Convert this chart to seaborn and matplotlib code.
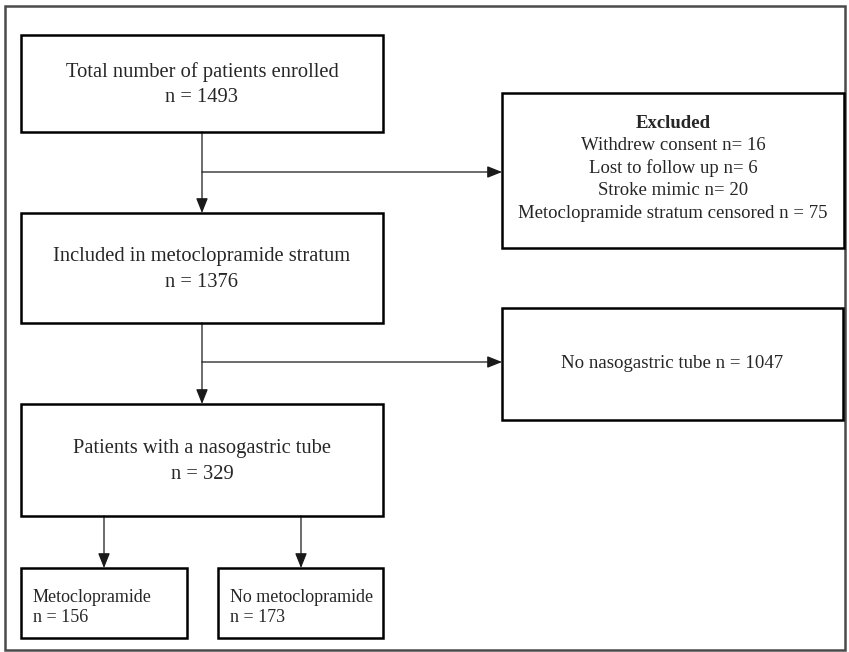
import matplotlib
matplotlib.use("Agg")
import matplotlib.pyplot as plt
from matplotlib.patches import Rectangle
import seaborn as sns

sns.set_theme(style="white")
plt.rcParams["font.family"] = ["Liberation Serif", "DejaVu Serif"]

# ---------------------------------------------------------------
# Flow data
# ---------------------------------------------------------------
stage_labels = ["Total number of patients enrolled",
                "Included in metoclopramide stratum",
                "Patients with a nasogastric tube"]
stage_n = [1493, 1376, 329]

excluded_title = "Excluded"
excluded_reasons = ["Withdrew consent", "Lost to follow up", "Stroke mimic",
                    "Metoclopramide stratum censored"]
excluded_sep = ["n= ", "n= ", "n= ", "n = "]
excluded_n = [16, 6, 20, 75]

no_tube_label = "No nasogastric tube"
no_tube_n = 1047

arm_labels = ["Metoclopramide", "No metoclopramide"]
arm_n = [156, 173]

# ---------------------------------------------------------------
# Layout (pixel space, y downward)
# ---------------------------------------------------------------
W, H = 849, 652
stage_boxes = [(21, 35, 362, 97), (21, 213, 362, 110), (21, 404, 362, 112)]
side_boxes = [(502, 93, 342, 155), (502, 308, 341, 112)]
arm_boxes = [(21, 568, 166, 70), (218, 568, 165, 70)]
trunk_x = 202
branch_y = [172, 362]
arm_x = [104, 301]

fig = plt.figure(figsize=(W / 100, H / 100), dpi=100)
ax = fig.add_axes([0, 0, 1, 1])
ax.set_xlim(0, W)
ax.set_ylim(H, 0)
ax.axis("off")

# outer frame
ax.add_patch(Rectangle((5, 6), 840, 644, fill=False, ec="#4a4a4a", lw=1.8))


def box(x, y, w, h):
    ax.add_patch(Rectangle((x, y), w, h, fill=False, ec="black", lw=1.8, zorder=3))


def arrow(x0, y0, x1, y1):
    ax.annotate("", xy=(x1, y1), xytext=(x0, y0),
                arrowprops=dict(arrowstyle="-|>,head_length=0.75,head_width=0.3",
                                color="#1a1a1a", lw=0.9, shrinkA=0, shrinkB=0),
                zorder=2)


# main stages
for (x, y, w, h), lab, n in zip(stage_boxes, stage_labels, stage_n):
    box(x, y, w, h)
    cx, cy = x + w / 2, y + h / 2
    ax.text(cx, cy - 11, lab, ha="center", va="center", fontsize=14.8)
    ax.text(cx, cy + 14.5, f"n = {n}", ha="center", va="center", fontsize=14.8)

# excluded box
x, y, w, h = side_boxes[0]
box(x, y, w, h)
lines = [excluded_title] + [f"{r} {s}{n}" for r, s, n in zip(excluded_reasons, excluded_sep, excluded_n)]
for i, t in enumerate(lines):
    ax.text(x + w / 2, 123 + i * 22.5, t, ha="center", va="center", fontsize=13.5,
            fontweight="bold" if i == 0 else "normal")

# no tube box
x, y, w, h = side_boxes[1]
box(x, y, w, h)
ax.text(x + w / 2, y + h / 2, f"{no_tube_label} n = {no_tube_n}", ha="center",
        va="center", fontsize=13.6)

# arms
for (x, y, w, h), lab, n in zip(arm_boxes, arm_labels, arm_n):
    box(x, y, w, h)
    ax.text(x + 12, y + 30, lab, ha="left", va="center", fontsize=13)
    ax.text(x + 12, y + 50, f"n = {n}", ha="left", va="center", fontsize=13)

# connectors
for i in range(2):
    top = stage_boxes[i][1] + stage_boxes[i][3]
    bottom = stage_boxes[i + 1][1]
    arrow(trunk_x, top, trunk_x, bottom)
    arrow(trunk_x, branch_y[i], side_boxes[i][0], branch_y[i])

src_bottom = stage_boxes[2][1] + stage_boxes[2][3]
for ax_x, (x, y, w, h) in zip(arm_x, arm_boxes):
    arrow(ax_x, src_bottom, ax_x, y)

fig.savefig("out.png", dpi=100, facecolor="white")
